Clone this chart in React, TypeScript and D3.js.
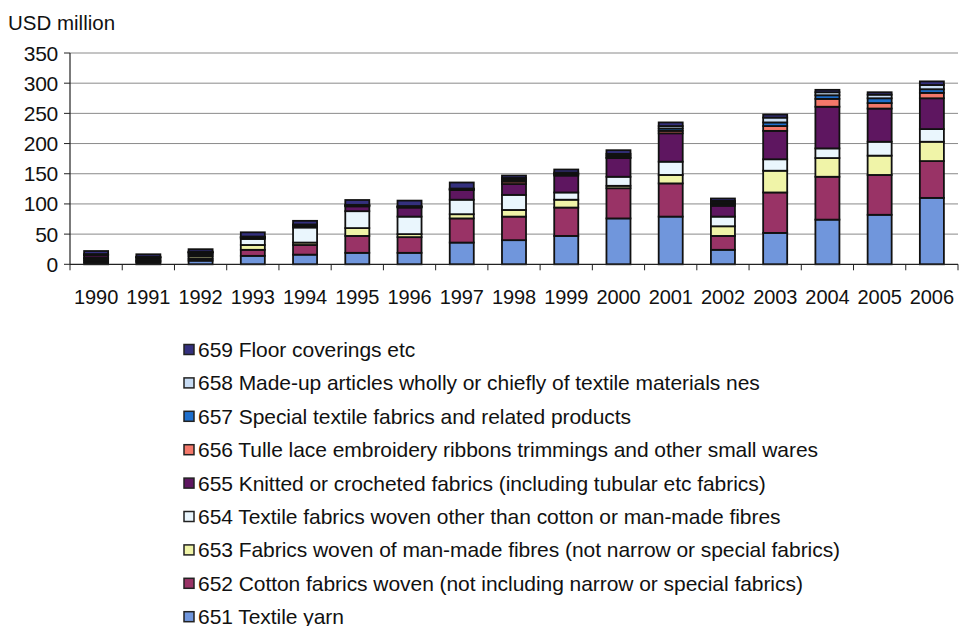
import React from "react";
import * as d3 from "d3";

const years = ["1990","1991","1992","1993","1994","1995","1996","1997","1998","1999","2000","2001","2002","2003","2004","2005","2006"];
const seriesKeys = ["651","652","653","654","655","656","657","658","659"];
const seriesLabels = [
  "651 Textile yarn",
  "652 Cotton fabrics woven (not including narrow or special fabrics)",
  "653 Fabrics woven of man-made fibres (not narrow or special fabrics)",
  "654 Textile fabrics woven other than cotton or man-made fibres",
  "655 Knitted or crocheted fabrics (including tubular etc fabrics)",
  "656 Tulle lace embroidery ribbons trimmings and other small wares",
  "657 Special textile fabrics and related products",
  "658 Made-up articles wholly or chiefly of textile materials nes",
  "659 Floor coverings etc",
];
const seriesColors = ["#7096dc","#993366","#f0f4a8","#eaf6fd","#5e1660","#f4786a","#1f6fcc","#c8dcf4","#34307e"];

const s651 = [3, 3, 6, 14, 16, 19, 19, 36, 40, 47, 76, 79, 24, 52, 74, 82, 110];
const s652 = [3, 2, 3, 10, 16, 28, 26, 40, 39, 47, 50, 55, 23, 67, 71, 66, 61];
const s653 = [3, 1, 4, 8, 4, 13, 5, 7, 11, 13, 4, 14, 16, 36, 31, 32, 32];
const s654 = [2, 2, 3, 10, 25, 28, 29, 24, 25, 12, 15, 22, 16, 19, 16, 23, 21];
const s655 = [4, 3, 3, 2, 3, 8, 15, 16, 18, 28, 31, 47, 18, 47, 69, 55, 51];
const s656 = [0.5, 0.3, 0.5, 0.5, 0.5, 1, 1, 1, 4, 2, 1, 4, 3, 8, 13, 9, 9];
const s657 = [0.5, 0.3, 0.5, 0.5, 0.5, 0.5, 0.5, 0.5, 3, 1, 3, 4, 3, 6, 6, 8, 6];
const s658 = [1, 1, 1, 1, 1, 1, 1, 1, 3, 2, 3, 4, 2, 8, 5, 6, 7];
const s659 = [5, 4, 4, 7, 6, 8, 9, 10, 4, 5, 6, 6, 4, 5, 4, 4, 6];
const seriesValues = [s651, s652, s653, s654, s655, s656, s657, s658, s659];

const yTicks = [0, 50, 100, 150, 200, 250, 300, 350];

const FONT = "'Liberation Sans', Arial, sans-serif";

export default function App() {
  const left = 70, right = 958, top = 53, bottom = 264.3;
  const x = d3.scaleBand<string>().domain(years).range([left, right]).paddingInner(0.54).paddingOuter(0.27);
  const y = d3.scaleLinear().domain([0, 350]).range([bottom, top]);

  const table = years.map((yr, i) => {
    const row: any = { year: yr };
    seriesKeys.forEach((k, j) => (row[k] = seriesValues[j][i]));
    return row;
  });
  const stacked = d3.stack<any>().keys(seriesKeys)(table);
  const step = x.step();

  return (
    <svg width={959} height={626} style={{ position: "absolute", left: 0, top: 0, background: "#fff" }} fontFamily={FONT}>
      <text x={8} y={30} fontSize={20.5} fill="#111">USD million</text>
      {yTicks.map((t) => (
        <g key={t}>
          {t > 0 && <line x1={left} x2={right} y1={y(t)} y2={y(t)} stroke="#8a8a8a" strokeWidth={1} />}
          <line x1={left - 6} x2={left} y1={y(t)} y2={y(t)} stroke="#222" strokeWidth={1} />
          <text x={58} y={y(t)} dy="0.36em" textAnchor="end" fontSize={21} fill="#111" letterSpacing={-0.3}>{t}</text>
        </g>
      ))}
      {stacked.map((layer, j) => (
        <g key={layer.key}>
          {layer.map((d, i) => (
            <rect key={i} x={x(years[i])} width={x.bandwidth()} y={y(d[1])} height={Math.max(0, y(d[0]) - y(d[1]))}
              fill={seriesColors[j]} stroke="#111" strokeWidth={1.8} />
          ))}
        </g>
      ))}
      <line x1={left} x2={left} y1={top} y2={bottom} stroke="#222" strokeWidth={1.2} />
      <line x1={left} x2={right} y1={bottom} y2={bottom} stroke="#222" strokeWidth={1.2} />
      {d3.range(years.length + 1).map((i) => (
        <line key={i} x1={left + i * step} x2={left + i * step} y1={bottom} y2={bottom + 6} stroke="#222" strokeWidth={1} />
      ))}
      {years.map((yr) => (
        <text key={yr} x={(x(yr) as number) + x.bandwidth() / 2} y={304} textAnchor="middle" fontSize={20} fill="#111" letterSpacing={-0.1}>{yr}</text>
      ))}
      {seriesLabels.slice().reverse().map((lab, k) => {
        const j = seriesLabels.length - 1 - k;
        const cy = 349.5 + k * 33.4;
        return (
          <g key={lab}>
            <rect x={184} y={cy - 5} width={10} height={10} fill={seriesColors[j]} stroke="#222" strokeWidth={1.5} />
            <text x={198} y={cy} dy="0.36em" fontSize={21} fill="#111" letterSpacing={-0.05}>{lab}</text>
          </g>
        );
      })}
    </svg>
  );
}
